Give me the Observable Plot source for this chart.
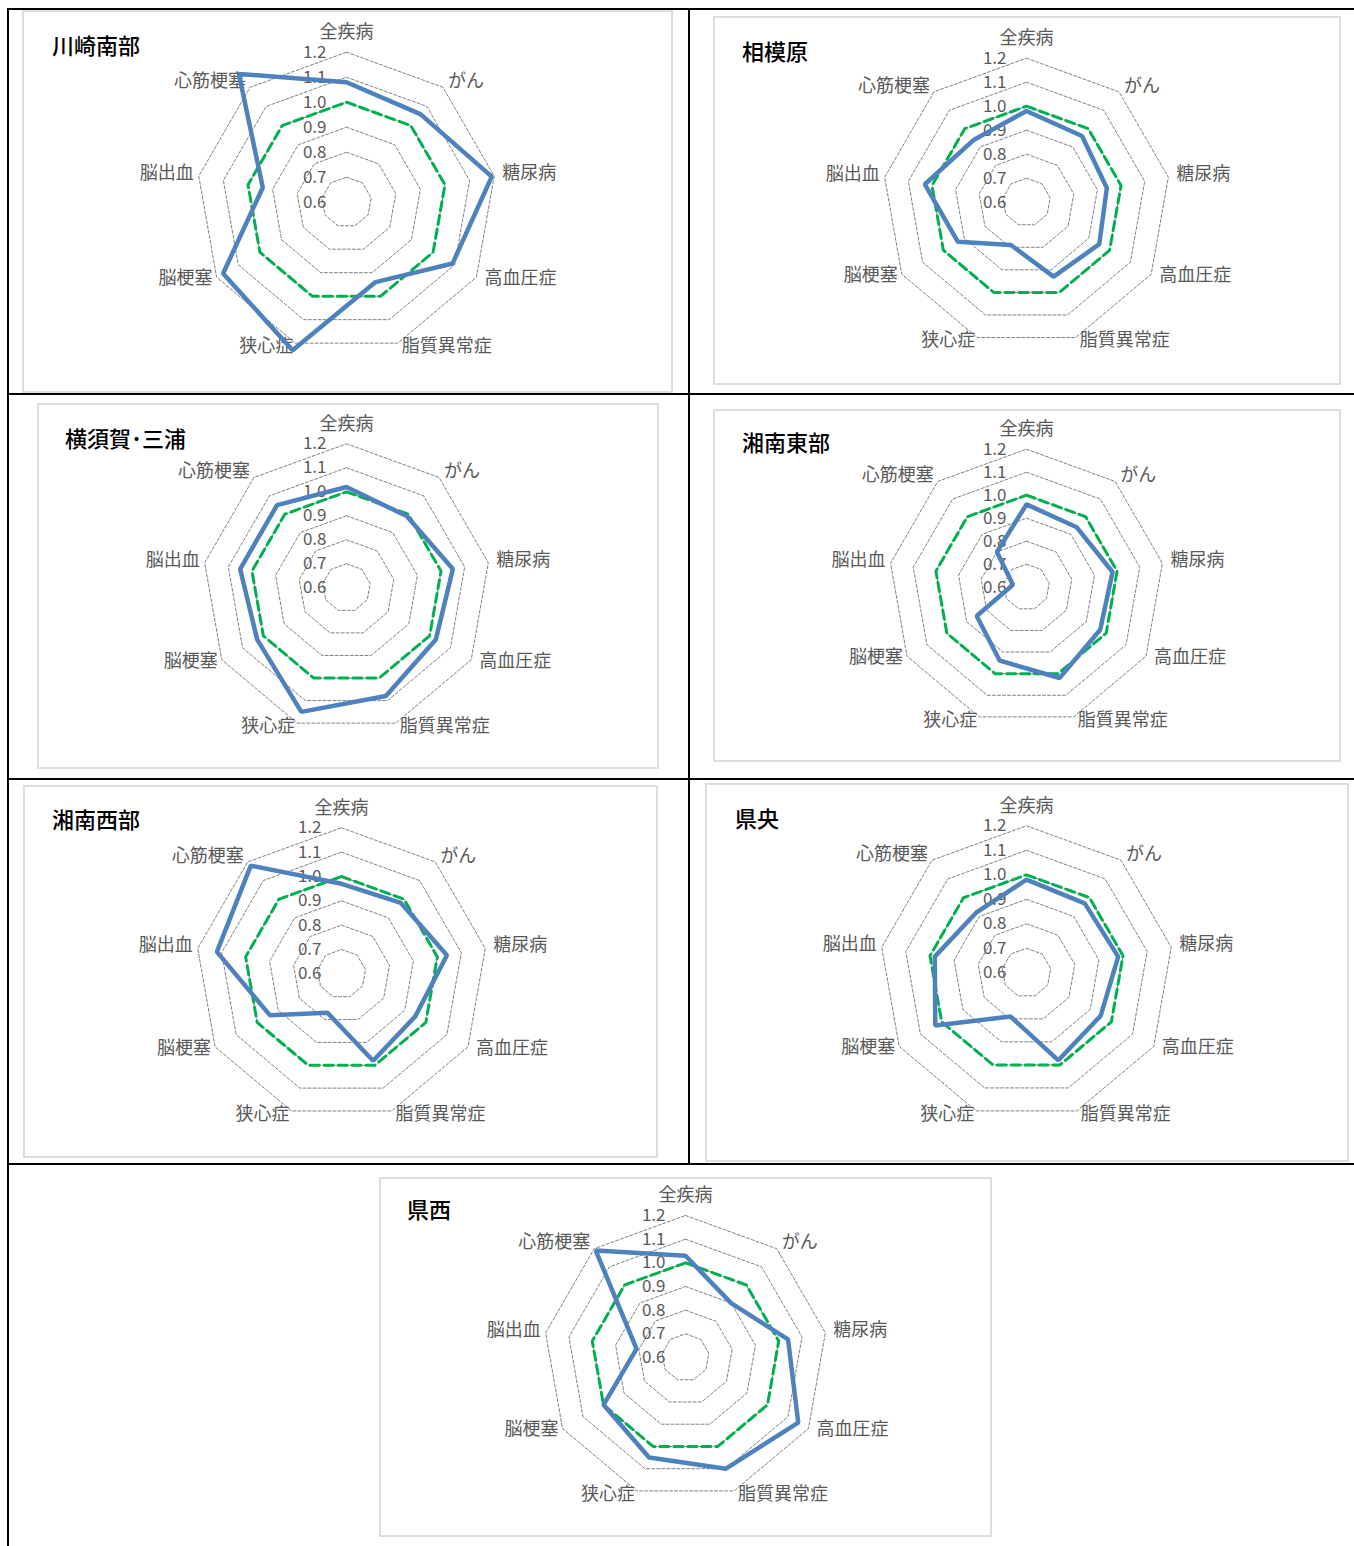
<!DOCTYPE html>
<html>
<head>
<meta charset="utf-8">
<script src="https://cdn.jsdelivr.net/npm/d3@7"></script>
<script src="https://cdn.jsdelivr.net/npm/@observablehq/plot@0.6"></script>
<style>
  body { margin: 0; background: #fff; }
  #page { position: relative; width: 1354px; height: 1546px; overflow: hidden; background: #fff;
          font-family: "Noto Sans CJK JP", "Noto Sans", sans-serif; }
  .rule { position: absolute; background: #000; }
  .frame { position: absolute; box-sizing: border-box; border: 2px solid #dedede; }
  .chart { position: absolute; overflow: visible; }
  .chart svg { overflow: visible; }
  .title { position: absolute; font-size: 22px; font-weight: 500; color: #000; line-height: 24px; white-space: nowrap; }
</style>
</head>
<body>
<div id="page"></div>
<script>
// Radar axes (clockwise from the top)
const categories = ["全疾病", "がん", "糖尿病", "高血圧症", "脂質異常症", "狭心症", "脳梗塞", "脳出血", "心筋梗塞"];
// Radial scale: centre = 0.6, outer ring = 1.2
const tickValues = [0.6, 0.7, 0.8, 0.9, 1.0, 1.1, 1.2];
const tickLabels = ["0.6", "0.7", "0.8", "0.9", "1.0", "1.1", "1.2"];

// Prefecture reference level (green dashed ring)
const prefAverage = [1.0, 1.0, 1.0, 1.0, 1.0, 1.0, 1.0, 1.0, 1.0];

// Ratios by secondary medical area
const regionNames = ["川崎南部", "相模原", "横須賀･三浦", "湘南東部", "湘南西部", "県央", "県西"];
const kawasakiNanbu = [1.08, 1.06, 1.19, 1.09, 0.94, 1.23, 1.17, 0.94, 1.27];
const sagamihara    = [0.98, 0.96, 0.94, 0.95, 0.93, 0.79, 0.93, 1.03, 0.94];
const yokosukaMiura = [1.02, 0.99, 1.05, 1.03, 1.08, 1.15, 1.03, 1.05, 1.05];
const shonanTobu    = [0.96, 0.94, 0.98, 0.97, 1.02, 0.94, 0.85, 0.66, 0.80];
const shonanSeibu   = [0.97, 0.98, 1.04, 0.95, 0.98, 0.77, 0.94, 1.12, 1.18];
const kenou         = [0.98, 0.97, 0.98, 0.95, 0.98, 0.79, 1.03, 0.98, 0.92];
const kensei        = [1.03, 0.90, 1.04, 1.15, 1.10, 1.05, 1.00, 0.81, 1.19];
const regionValues = [kawasakiNanbu, sagamihara, yokosukaMiura, shonanTobu, shonanSeibu, kenou, kensei];

// Page layout: frame box [left, top, right, bottom], radar centre, outer radius, title position
const layout = [
  { frame: [22, 10, 673, 393],    center: [346, 201.7],  radius: 150, title: [52, 44] },
  { frame: [713, 16, 1341, 385],  center: [1026, 201.7], radius: 144, title: [742, 50] },
  { frame: [37, 403, 659, 769],   center: [346, 587.3],  radius: 144, title: [65, 437] },
  { frame: [713, 409, 1341, 762], center: [1026, 586.7], radius: 138, title: [742, 441] },
  { frame: [23, 785, 658, 1158],  center: [341, 973.3],  radius: 146, title: [52, 818] },
  { frame: [705, 783, 1349, 1162],center: [1026, 972.3], radius: 147, title: [735, 817] },
  { frame: [379, 1177, 992, 1537],center: [685, 1357],   radius: 142, title: [407, 1208] }
];

// Category label placement relative to the outer-ring vertex: [dx, dy, anchor]
const labelPlacement = [
  [0, -20, "middle"], [5, -6, "start"], [8, -3, "start"], [8, 1, "start"], [4, 3, "start"],
  [-2, 3, "end"], [-4, 1, "end"], [-5, -3, "end"], [-4, -6, "end"]
];

const page = document.getElementById("page");
const MIN = tickValues[0], MAX = tickValues[tickValues.length - 1];
const SPAN = MAX - MIN;

function el(cls, style, text) {
  const d = document.createElement("div");
  d.className = cls;
  Object.assign(d.style, style);
  if (text) d.textContent = text;
  page.appendChild(d);
  return d;
}
const px = v => v + "px";

// Table rules
function rule(x, y, w, h) { el("rule", { left: px(x), top: px(y), width: px(w), height: px(h) }); }
rule(7, 8, 1347, 2);
rule(7, 8, 2, 1538);
rule(687.5, 8, 2, 1156);
rule(7, 392.5, 1347, 2);
rule(7, 778, 1347, 2);
rule(7, 1162.5, 1347, 2);

// Polar -> cartesian in value units (distance from the centre value)
const angle = i => (i * 2 * Math.PI) / categories.length;
const polar = (i, v) => ({ x: (v - MIN) * Math.sin(angle(i)), y: (v - MIN) * Math.cos(angle(i)) });

const rings = tickValues.slice(1).flatMap(t => categories.map((c, i) => ({ ring: t, ...polar(i, t) })));
const refPoints = prefAverage.map((v, i) => ({ category: categories[i], value: v, ...polar(i, v) }));

regionNames.forEach((name, k) => {
  const L = layout[k];
  const [fl, ft, fr, fb] = L.frame;
  const W = fr - fl, H = fb - ft;
  const cx = L.center[0] - fl, cy = L.center[1] - ft, R = L.radius;

  el("frame", { left: px(fl), top: px(ft), width: px(W), height: px(H) });

  const series = regionValues[k].map((v, i) => ({ category: categories[i], value: v, ...polar(i, v) }));
  const outer = categories.map((c, i) => ({ category: c, ...polar(i, MAX) }));

  const chart = Plot.plot({
    width: W,
    height: H,
    margin: 0,
    style: { background: "transparent", maxWidth: "none", overflow: "visible",
             fontFamily: '"Noto Sans CJK JP", "Noto Sans", sans-serif' },
    x: { type: "linear", domain: [-SPAN, SPAN], range: [cx - R, cx + R], axis: null },
    y: { type: "linear", domain: [-SPAN, SPAN], range: [cy + R, cy - R], axis: null },
    marks: [
      // grid rings
      Plot.line(rings, { x: "x", y: "y", z: "ring", curve: "linear-closed",
        stroke: "#808080", strokeWidth: 1, strokeDasharray: "3,2" }),
      // radial tick labels
      Plot.text(tickValues, { x: () => 0, y: d => d - MIN, text: (d, i) => tickLabels[i],
        textAnchor: "end", dx: -20, fontSize: 17, fill: "#595959" }),
      // category labels
      ...outer.map((d, i) => Plot.text([d], { x: "x", y: "y", text: "category",
        dx: labelPlacement[i][0], dy: labelPlacement[i][1], textAnchor: labelPlacement[i][2],
        fontSize: 18, fill: "#595959" })),
      // prefecture level
      Plot.line(refPoints, { x: "x", y: "y", curve: "linear-closed",
        stroke: "#00b050", strokeWidth: 3, strokeDasharray: "9,5" }),
      // area values
      Plot.line(series, { x: "x", y: "y", curve: "linear-closed",
        stroke: "#4f81bd", strokeWidth: 4.5, strokeLinejoin: "miter" })
    ]
  });

  const holder = el("chart", { left: px(fl), top: px(ft), width: px(W), height: px(H) });
  holder.appendChild(chart);

  el("title", { left: px(L.title[0]), top: px(L.title[1] - 12) }, name);
});
</script>
</body>
</html>
